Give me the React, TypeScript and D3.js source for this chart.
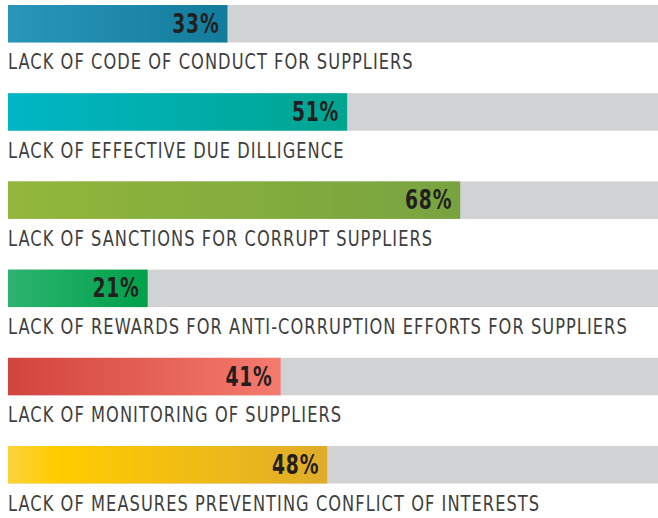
import React from "react";
import * as d3 from "d3";

const categories = [
  "LACK OF CODE OF CONDUCT FOR SUPPLIERS",
  "LACK OF EFFECTIVE DUE DILLIGENCE",
  "LACK OF SANCTIONS FOR CORRUPT SUPPLIERS",
  "LACK OF REWARDS FOR ANTI-CORRUPTION EFFORTS FOR SUPPLIERS",
  "LACK OF MONITORING OF SUPPLIERS",
  "LACK OF MEASURES PREVENTING CONFLICT OF INTERESTS",
];
const values = [33, 51, 68, 21, 41, 48];
const gradients = [
  ["#2996ba", "#137c9c"],
  ["#00b6c6", "#00a58f"],
  ["#92b73b", "#78a340"],
  ["#2db36f", "#00a14a"],
  ["#d2443f", "#f47b6d"],
  ["#ffcc00", "#e0ac2a"],
];

const W = 658;
const H = 518;
// no narrow DIN-like font available, so squeeze DejaVu Condensed a bit
const FONT = "'DejaVu Sans Condensed', 'DejaVu Sans', sans-serif";

const App = () => {
  const x = d3.scaleLinear().domain([0, 100]).range([8, 673]);
  const y = d3
    .scaleBand()
    .domain(categories)
    .range([5, 483.5])
    .paddingInner(0.575)
    .paddingOuter(0);

  return (
    <svg
      width={W}
      height={H}
      style={{ position: "absolute", left: 0, top: 0, background: "#fff" }}
    >
      <defs>
        {gradients.map((g, i) => (
          <linearGradient key={i} id={"grad" + i} x1="0" x2="1" y1="0" y2="0">
            <stop offset="0" stopColor={i === 5 ? "#fdd33a" : g[0]} />
            {i === 5 && <stop offset="0.15" stopColor={g[0]} />}
            <stop offset="1" stopColor={g[1]} />
          </linearGradient>
        ))}
      </defs>
      {categories.map((c, i) => {
        const top = y(c)!;
        const bw = y.bandwidth();
        return (
          <g key={c}>
            <rect x={x(0)} y={top} width={x(100) - x(0)} height={bw} fill="#d1d2d4" />
            <rect
              x={x(0)}
              y={top}
              width={x(values[i]) - x(0)}
              height={bw}
              fill={`url(#grad${i})`}
            />
            <text
              transform={`translate(${x(values[i]) - 8},${top + bw / 2 + 9}) scale(0.8,1)`}
              textAnchor="end"
              fontFamily={FONT}
              fontWeight="bold"
              fontSize="26"
              letterSpacing="1"
              fill="#231f20"
            >
              {values[i]}%
            </text>
            <text
              transform={`translate(${x(0)},${top + bw + 27}) scale(0.88,1)`}
              fontFamily={FONT}
              fontSize="20.5"
              letterSpacing="1.2"
              fill="#3e3e3e"
            >
              {c}
            </text>
          </g>
        );
      })}
    </svg>
  );
};

export default App;
